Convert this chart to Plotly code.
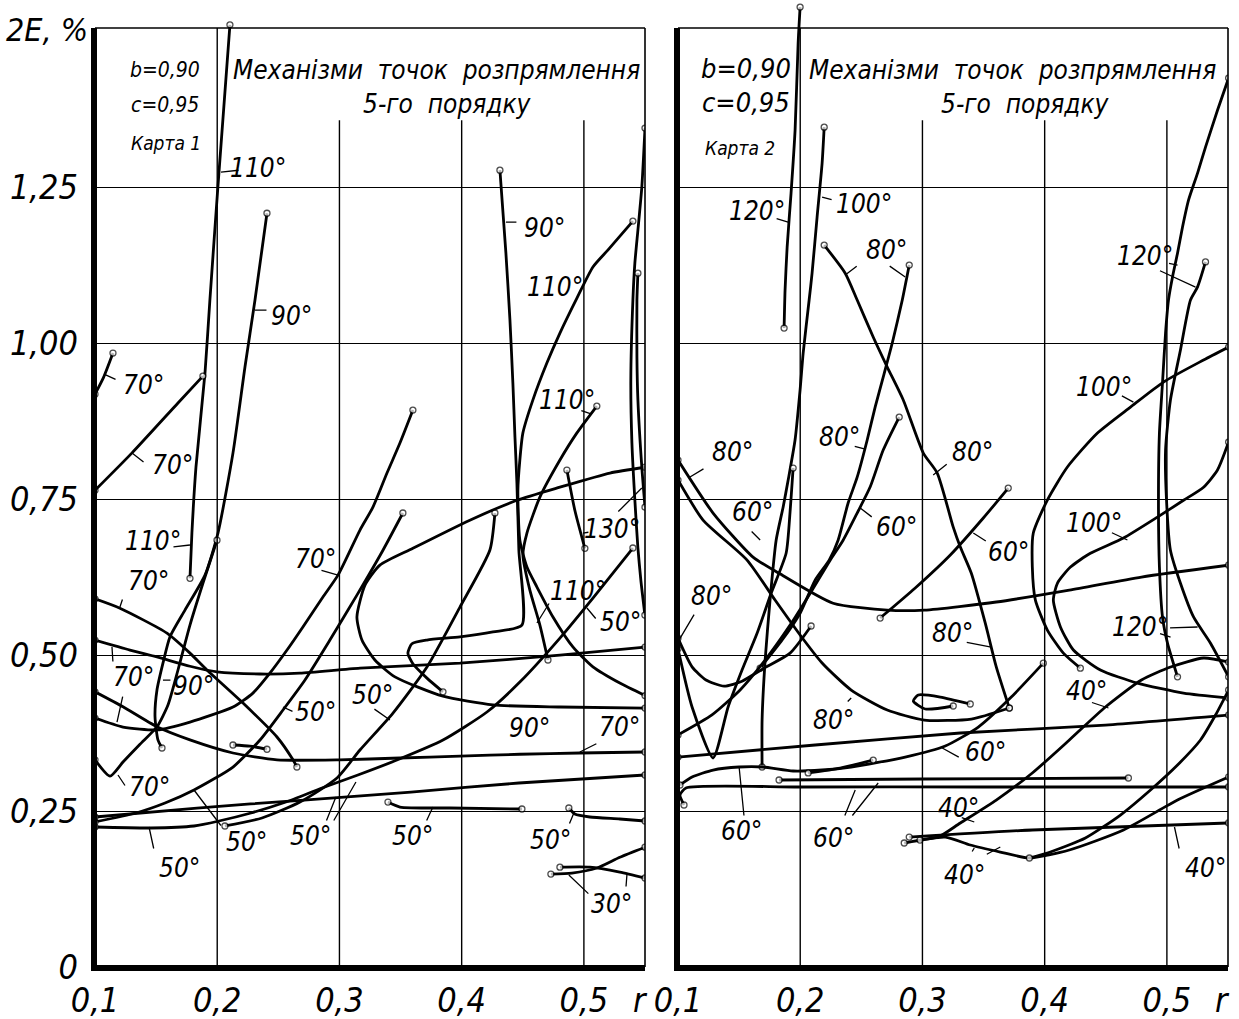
import plotly.graph_objects as go

# ---------------- axes / ticks ----------------
Y_TICKS = [0, 0.25, 0.5, 0.75, 1.0, 1.25]
Y_TICK_TEXT = ["0", "0,25", "0,50", "0,75", "1,00", "1,25"]
X_TICKS = [0.1, 0.2, 0.3, 0.4, 0.5]
X_TICK_TEXT = ["0,1", "0,2", "0,3", "0,4", "0,5"]
GRID_X = [0.2, 0.3, 0.4, 0.5]
GRID_TOP = [1.505, 1.357, 1.357, 1.357]
FRAME_TOP = 1.505
X_RANGE = [0.1, 0.55]
Y_RANGE = [0, 1.545]

# ---------------- Карта 1 (left panel) ----------------
A1_110_X = [0.2104, 0.2006, 0.194, 0.19, 0.1826, 0.1793, 0.1777]
A1_110_Y = [1.510, 1.252, 1.069, 0.952, 0.801, 0.696, 0.623]
A1_90_X = [0.2407, 0.2309, 0.2227, 0.2129, 0.2006, 0.19, 0.1736, 0.1613, 0.1556, 0.1507, 0.1491, 0.1515, 0.1548]
A1_90_Y = [1.208, 1.069, 0.9615, 0.824, 0.6955, 0.628, 0.572, 0.529, 0.487, 0.444, 0.401, 0.364, 0.351]
A1_70S_X = [0.1, 0.107, 0.1147]
A1_70S_Y = [0.918, 0.945, 0.984]
A1_70B_X = [0.1, 0.1303, 0.1679, 0.1883]
A1_70B_Y = [0.764, 0.824, 0.904, 0.947]
A1_70D_X = [0.1, 0.1204, 0.1589, 0.1777, 0.1916, 0.2211, 0.2489, 0.262, 0.2652]
A1_70D_Y = [0.59, 0.575, 0.535, 0.503, 0.476, 0.423, 0.3686, 0.332, 0.3205]
A1_70F_X = [0.1, 0.1229, 0.1507, 0.1777, 0.2129, 0.2489, 0.3, 0.3495, 0.3986, 0.4476, 0.4967, 0.55]
A1_70F_Y = [0.441, 0.417, 0.385, 0.364, 0.343, 0.332, 0.332, 0.335, 0.338, 0.341, 0.343, 0.3446]
A1_90C_X = [0.55, 0.5213, 0.4804, 0.4452, 0.4067, 0.3601, 0.3331, 0.3209, 0.3143, 0.3184, 0.329, 0.3454, 0.3847, 0.4256, 0.4804, 0.55]
A1_90C_Y = [0.801, 0.7917, 0.769, 0.748, 0.716, 0.671, 0.644, 0.612, 0.561, 0.524, 0.492, 0.465, 0.434, 0.42, 0.4167, 0.415]
A1_90R_X = [0.4313, 0.4362, 0.4395, 0.4419, 0.4436, 0.4452, 0.4468, 0.4493, 0.4256, 0.3986, 0.3716, 0.3593, 0.356, 0.3601, 0.3716, 0.3847]
A1_90R_Y = [1.277, 1.144, 1.037, 0.936, 0.849, 0.776, 0.668, 0.548, 0.537, 0.529, 0.524, 0.518, 0.503, 0.486, 0.463, 0.441]
A1_110C_X = [0.5401, 0.5196, 0.5074, 0.4943, 0.4804, 0.4697, 0.4583, 0.4501, 0.4476, 0.446, 0.4476, 0.4534, 0.4616, 0.4747, 0.491, 0.5074, 0.5294, 0.55]
A1_110C_Y = [1.1955, 1.149, 1.122, 1.072, 1.016, 0.968, 0.909, 0.856, 0.8125, 0.764, 0.684, 0.641, 0.609, 0.561, 0.513, 0.481, 0.455, 0.435]
A1_110V_X = [0.5106, 0.4943, 0.4804, 0.464, 0.4534, 0.4501, 0.4558, 0.464, 0.4706]
A1_110V_Y = [0.899, 0.856, 0.8125, 0.753, 0.6955, 0.66, 0.604, 0.548, 0.492]
A1_130_X = [0.4861, 0.4926, 0.5008]
A1_130_Y = [0.7965, 0.732, 0.671]
A1_130A_X = [0.55, 0.5474, 0.5442, 0.5417, 0.5401, 0.5384, 0.5393, 0.5417, 0.5442, 0.5466, 0.5499]
A1_130A_Y = [1.3446, 1.25, 1.181, 1.128, 1.069, 0.9407, 0.8397, 0.7484, 0.6715, 0.62, 0.564]
A1_130B_X = [0.5442, 0.5434, 0.5434, 0.5442, 0.5474, 0.55]
A1_130B_Y = [1.112, 1.069, 0.9776, 0.9087, 0.801, 0.737]
A1_70V_X = [0.1, 0.1123, 0.1229, 0.1368, 0.1507, 0.1597, 0.1679, 0.1777, 0.1883, 0.1998]
A1_70V_Y = [0.332, 0.306, 0.3285, 0.357, 0.385, 0.42, 0.476, 0.548, 0.615, 0.684]
A1_70L_X = [0.3601, 0.3495, 0.3389, 0.3274, 0.3168, 0.2988, 0.2865, 0.2701, 0.2571, 0.2431, 0.2292, 0.2129, 0.1777, 0.1507, 0.1229, 0.1]
A1_70L_Y = [0.8926, 0.8397, 0.7917, 0.737, 0.7003, 0.628, 0.593, 0.545, 0.508, 0.471, 0.439, 0.4167, 0.3926, 0.38, 0.3846, 0.399]
A1_70H_X = [0.1, 0.1286, 0.1507, 0.1777, 0.1998, 0.235, 0.2677, 0.3168, 0.3986, 0.4804, 0.55]
A1_70H_Y = [0.524, 0.508, 0.497, 0.482, 0.473, 0.4696, 0.471, 0.479, 0.487, 0.5, 0.5128]
A1_SHORT_X = [0.2129, 0.2268, 0.2407]
A1_SHORT_Y = [0.3558, 0.354, 0.349]
A1_50A_X = [0.1, 0.1335, 0.1573, 0.181, 0.2129, 0.235, 0.2538, 0.2718, 0.2922, 0.3143, 0.3356, 0.3519]
A1_50A_Y = [0.2324, 0.2468, 0.2628, 0.2837, 0.3205, 0.3638, 0.4119, 0.46, 0.524, 0.596, 0.668, 0.7276]
A1_50B_X = [0.1, 0.1458, 0.181, 0.2014, 0.2276, 0.2562, 0.2857, 0.3151, 0.347, 0.3847, 0.4207, 0.4476, 0.4804, 0.5074, 0.5401]
A1_50B_Y = [0.2244, 0.2228, 0.226, 0.234, 0.2468, 0.2644, 0.2869, 0.3077, 0.3317, 0.3638, 0.4087, 0.4567, 0.5272, 0.5913, 0.6715]
A1_50C_X = [0.4272, 0.4231, 0.3986, 0.3716, 0.3438, 0.3168, 0.298, 0.2677, 0.2366, 0.2063]
A1_50C_Y = [0.7276, 0.6683, 0.5769, 0.4808, 0.407, 0.3478, 0.3029, 0.2644, 0.2388, 0.226]
A1_50F_X = [0.1, 0.1834, 0.271, 0.3585, 0.4468, 0.55]
A1_50F_Y = [0.2404, 0.2548, 0.2676, 0.2804, 0.2949, 0.3077]
A1_50S_X = [0.3397, 0.3495, 0.3904, 0.4493]
A1_50S_Y = [0.2644, 0.2564, 0.2548, 0.2532]
A1_50R_X = [0.4877, 0.4926, 0.5049, 0.5294, 0.55]
A1_50R_Y = [0.2548, 0.2452, 0.2404, 0.2372, 0.234]
A1_30A_X = [0.4804, 0.5049, 0.5294, 0.55]
A1_30A_Y = [0.160, 0.160, 0.152, 0.1426]
A1_30B_X = [0.473, 0.4902, 0.5106, 0.5294, 0.55]
A1_30B_Y = [0.149, 0.1506, 0.1587, 0.176, 0.192]

# ---------------- Карта 2 (right panel) ----------------
A2_120_X = [0.1999, 0.1983, 0.1958, 0.1925, 0.1893, 0.1876, 0.1868]
A2_120_Y = [1.5385, 1.4808, 1.3413, 1.2404, 1.1538, 1.0849, 1.024]
A2_100_X = [0.2196, 0.2179, 0.2138, 0.2097, 0.2073, 0.2024, 0.1999, 0.1958, 0.1901, 0.186, 0.1803, 0.1753, 0.1713, 0.1688, 0.1688]
A2_100_Y = [1.346, 1.288, 1.202, 1.112, 1.069, 0.984, 0.925, 0.845, 0.78, 0.737, 0.684, 0.588, 0.492, 0.396, 0.3205]
A2_80A_X = [0.2196, 0.2368, 0.2466, 0.2597, 0.2712, 0.2843, 0.3007, 0.3121, 0.3252, 0.331, 0.34, 0.3514, 0.3604, 0.3711]
A2_80A_Y = [1.157, 1.112, 1.069, 1.0096, 0.9615, 0.9087, 0.8237, 0.7917, 0.705, 0.673, 0.631, 0.551, 0.481, 0.415]
A2_80B_X = [0.2892, 0.2835, 0.2753, 0.2679, 0.2613, 0.2548, 0.2466, 0.2392, 0.231, 0.2237, 0.2122, 0.1999, 0.1852, 0.1672]
A2_80B_Y = [1.125, 1.069, 1.0, 0.9455, 0.8974, 0.8446, 0.785, 0.7436, 0.684, 0.652, 0.62, 0.567, 0.524, 0.479]
A2_60A_X = [0.281, 0.2679, 0.2572, 0.2466, 0.2351, 0.2245, 0.2097, 0.1917, 0.1713, 0.1508, 0.1278, 0.1]
A2_60A_Y = [0.8814, 0.8285, 0.7692, 0.7276, 0.684, 0.652, 0.604, 0.548, 0.492, 0.444, 0.404, 0.372]
A2_60B_X = [0.3702, 0.3498, 0.3228, 0.2941, 0.2654]
A2_60B_Y = [0.7676, 0.7196, 0.6603, 0.6074, 0.5593]
A2_100C_X = [0.5505, 0.53, 0.4972, 0.4702, 0.4432, 0.4186, 0.4022, 0.3907, 0.3899, 0.3924, 0.4022, 0.4153, 0.4292]
A2_100C_Y = [0.9936, 0.9728, 0.9375, 0.8974, 0.8558, 0.8013, 0.7484, 0.6955, 0.641, 0.588, 0.54, 0.503, 0.479]
A2_100D_X = [0.5505, 0.5414, 0.53, 0.5136, 0.4923, 0.4645, 0.4374, 0.4211, 0.4104, 0.4071, 0.4129, 0.4235, 0.4456, 0.4759, 0.5136, 0.5505]
A2_100D_Y = [0.8413, 0.7965, 0.769, 0.748, 0.721, 0.6875, 0.663, 0.641, 0.615, 0.588, 0.545, 0.508, 0.476, 0.455, 0.439, 0.431]
A2_120A_X = [0.5505, 0.5414, 0.5316, 0.5251, 0.5177, 0.5128, 0.5087, 0.5046, 0.5013, 0.4989, 0.4964, 0.4939, 0.4931, 0.4939, 0.4964, 0.5005, 0.5087]
A2_120A_Y = [1.4247, 1.373, 1.314, 1.2724, 1.229, 1.186, 1.144, 1.106, 1.069, 1.016, 0.936, 0.856, 0.748, 0.641, 0.561, 0.519, 0.465]
A2_120B_X = [0.5316, 0.5251, 0.5193, 0.5111, 0.5029, 0.4989, 0.4997, 0.5029, 0.5111, 0.5218, 0.5357, 0.5505]
A2_120B_Y = [1.13, 1.09, 1.069, 0.989, 0.9087, 0.8285, 0.748, 0.668, 0.615, 0.561, 0.519, 0.465]
A2_80L_X = [0.1, 0.1287, 0.1614, 0.1827, 0.2269, 0.2712, 0.3015, 0.3604, 0.4202, 0.4792, 0.5505]
A2_80L_Y = [0.8125, 0.7276, 0.657, 0.631, 0.583, 0.572, 0.572, 0.585, 0.604, 0.625, 0.644]
A2_80M_X = [0.1, 0.1205, 0.1565, 0.1794, 0.1999, 0.2179, 0.2417, 0.2712, 0.3015, 0.34, 0.3711]
A2_80M_Y = [0.7804, 0.7163, 0.6522, 0.5881, 0.5321, 0.4872, 0.4439, 0.4119, 0.3958, 0.3974, 0.4151]
A2_LOOP_X = [0.3252, 0.3023, 0.2925, 0.2966, 0.3146, 0.3391]
A2_LOOP_Y = [0.4183, 0.4135, 0.4263, 0.4359, 0.4327, 0.4215]
A2_80U_X = [0.1, 0.1115, 0.1229, 0.1377, 0.1524, 0.1704, 0.1917, 0.2089]
A2_80U_Y = [0.527, 0.481, 0.46, 0.45, 0.458, 0.479, 0.503, 0.5465]
A2_V_X = [0.1, 0.1115, 0.1287, 0.141, 0.1524, 0.1647, 0.1762, 0.1885, 0.1917, 0.1942]
A2_V_Y = [0.51, 0.4167, 0.335, 0.4167, 0.476, 0.535, 0.599, 0.6635, 0.73, 0.7997]
A2_60F_X = [0.1, 0.2122, 0.331, 0.4497, 0.5505]
A2_60F_Y = [0.3365, 0.3558, 0.375, 0.3878, 0.4038]
A2_60G_X = [0.1049, 0.1016, 0.1065, 0.2, 0.35, 0.45, 0.5505]
A2_60G_Y = [0.2596, 0.2757, 0.2869, 0.2885, 0.2885, 0.2885, 0.2885]
A2_60H_X = [0.1827, 0.3, 0.4685]
A2_60H_Y = [0.2997, 0.3013, 0.3029]
A2_60K_X = [0.1016, 0.1115, 0.1287, 0.15, 0.1696, 0.1942, 0.2179, 0.2417, 0.2859, 0.3187, 0.3457, 0.3727, 0.3989]
A2_60K_Y = [0.2917, 0.3045, 0.3157, 0.3205, 0.3205, 0.3141, 0.3157, 0.3205, 0.3365, 0.3542, 0.3846, 0.4327, 0.487]
A2_60S_X = [0.2065, 0.2327, 0.2597]
A2_60S_Y = [0.311, 0.3189, 0.3317]
A2_40A_X = [0.2892, 0.3899, 0.5505]
A2_40A_Y = [0.2083, 0.2196, 0.2308]
A2_40B_X = [0.2851, 0.3187, 0.3392, 0.3637, 0.3875, 0.4202, 0.4645, 0.5087, 0.5505]
A2_40B_Y = [0.1987, 0.2083, 0.1955, 0.1843, 0.1747, 0.1875, 0.2196, 0.2676, 0.3045]
A2_40C_X = [0.5505, 0.53, 0.503, 0.4792, 0.4497, 0.4202, 0.3899, 0.3604, 0.331, 0.313, 0.298]
A2_40C_Y = [0.4888, 0.4952, 0.4808, 0.46, 0.4167, 0.3638, 0.3109, 0.2676, 0.2308, 0.2083, 0.2035]
A2_40D_X = [0.5505, 0.5398, 0.5275, 0.5087, 0.4866, 0.462, 0.4333, 0.4047, 0.3875]
A2_40D_Y = [0.4439, 0.4038, 0.3638, 0.3237, 0.2837, 0.2436, 0.2067, 0.1843, 0.1747]

CURVES_1 = [
    (A1_110_X, A1_110_Y), (A1_90_X, A1_90_Y), (A1_70S_X, A1_70S_Y), (A1_70B_X, A1_70B_Y),
    (A1_70D_X, A1_70D_Y), (A1_70F_X, A1_70F_Y), (A1_90C_X, A1_90C_Y), (A1_90R_X, A1_90R_Y),
    (A1_110C_X, A1_110C_Y), (A1_110V_X, A1_110V_Y), (A1_130_X, A1_130_Y), (A1_130A_X, A1_130A_Y),
    (A1_130B_X, A1_130B_Y), (A1_70V_X, A1_70V_Y), (A1_70L_X, A1_70L_Y), (A1_70H_X, A1_70H_Y),
    (A1_SHORT_X, A1_SHORT_Y), (A1_50A_X, A1_50A_Y), (A1_50B_X, A1_50B_Y), (A1_50C_X, A1_50C_Y),
    (A1_50F_X, A1_50F_Y), (A1_50S_X, A1_50S_Y), (A1_50R_X, A1_50R_Y), (A1_30A_X, A1_30A_Y),
    (A1_30B_X, A1_30B_Y),
]
CURVES_2 = [
    (A2_120_X, A2_120_Y), (A2_100_X, A2_100_Y), (A2_80A_X, A2_80A_Y), (A2_80B_X, A2_80B_Y),
    (A2_60A_X, A2_60A_Y), (A2_60B_X, A2_60B_Y), (A2_100C_X, A2_100C_Y), (A2_100D_X, A2_100D_Y),
    (A2_120A_X, A2_120A_Y), (A2_120B_X, A2_120B_Y), (A2_80L_X, A2_80L_Y), (A2_80M_X, A2_80M_Y),
    (A2_LOOP_X, A2_LOOP_Y), (A2_80U_X, A2_80U_Y), (A2_V_X, A2_V_Y), (A2_60F_X, A2_60F_Y),
    (A2_60G_X, A2_60G_Y), (A2_60H_X, A2_60H_Y), (A2_60K_X, A2_60K_Y), (A2_60S_X, A2_60S_Y),
    (A2_40A_X, A2_40A_Y), (A2_40B_X, A2_40B_Y), (A2_40C_X, A2_40C_Y), (A2_40D_X, A2_40D_Y),
]

# angle labels: (text, x, y)
LABELS_1 = [
    ("110°", 0.2333, 1.2804), ("90°", 0.2611, 1.0433), ("90°", 0.4681, 1.1843), ("110°", 0.4763, 1.0897),
    ("70°", 0.1393, 0.9327), ("70°", 0.163, 0.8045), ("110°", 0.4861, 0.9087), ("110°", 0.1474, 0.6827),
    ("70°", 0.1434, 0.6186), ("70°", 0.2808, 0.6538), ("130°", 0.5229, 0.7019), ("110°", 0.4951, 0.6026),
    ("50°", 0.5303, 0.5529), ("70°", 0.1311, 0.4647), ("90°", 0.1802, 0.4503), ("50°", 0.2808, 0.4087),
    ("50°", 0.3274, 0.4359), ("90°", 0.4558, 0.383), ("70°", 0.5294, 0.3846), ("70°", 0.1442, 0.2885),
    ("50°", 0.1695, 0.1587), ("50°", 0.2243, 0.2003), ("50°", 0.2767, 0.2099), ("50°", 0.3601, 0.2099),
    ("50°", 0.473, 0.2035), ("30°", 0.5229, 0.101),
]
LABELS_2 = [
    ("120°", 0.1647, 1.2115), ("100°", 0.2523, 1.2228), ("80°", 0.2704, 1.149), ("120°", 0.4817, 1.1394),
    ("80°", 0.1442, 0.8253), ("80°", 0.2319, 0.8494), ("60°", 0.1606, 0.7292), ("60°", 0.2785, 0.7051),
    ("80°", 0.3408, 0.8253), ("100°", 0.4489, 0.9295), ("60°", 0.3703, 0.6651), ("100°", 0.4407, 0.7115),
    ("120°", 0.4784, 0.5449), ("40°", 0.4342, 0.4423), ("60°", 0.3514, 0.3446), ("80°", 0.127, 0.5946),
    ("80°", 0.3244, 0.5353), ("80°", 0.2269, 0.3958), ("60°", 0.1516, 0.2179), ("60°", 0.2269, 0.2067),
    ("40°", 0.3293, 0.2548), ("40°", 0.3342, 0.1474), ("40°", 0.5316, 0.1587),
]
# leader lines: (target x, target y, tail dx px, tail dy px)
LEADERS_1 = [
    (0.2031, 1.274, 19, -2), (0.2309, 1.0529, 13, 0), (0.4362, 1.1939, 12, 0), (0.1074, 0.9503, 13, 6),
    (0.1303, 0.8237, 13, 10), (0.1777, 0.6763, -18, 2), (0.1204, 0.5769, 3, -9), (0.2988, 0.6282, -18, -5),
    (0.4992, 0.6955, 7, -1), (0.5474, 0.7676, -25, 25), (0.4616, 0.5513, 13, -21), (0.5065, 0.8862, -12, -4),
    (0.5025, 0.5753, 10, 12), (0.1139, 0.5128, 1, 16), (0.118, 0.3926, 6, -27), (0.1556, 0.4599, 9, 0),
    (0.2538, 0.4167, 11, 5), (0.3413, 0.3958, -17, -12), (0.4967, 0.3446, 18, -9), (0.1188, 0.3077, 8, 12),
    (0.1442, 0.2244, 5, 23), (0.181, 0.2837, 28, 37), (0.2971, 0.2724, -10, 25), (0.3135, 0.2965, -23, 40),
    (0.3765, 0.2564, -7, 15), (0.4918, 0.2468, -5, 12), (0.4877, 0.1474, 21, 20), (0.5352, 0.1474, -1, 13),
]
LEADERS_2 = [
    (0.1901, 1.1939, -13, -4), (0.2179, 1.234, 11, 3), (0.2368, 1.109, 13, -10), (0.2859, 1.1058, -17, -12),
    (0.5087, 1.125, -10, -2), (0.5234, 1.0897, -37, -17), (0.1098, 0.7853, 15, -9), (0.2532, 0.8301, -12, -3),
    (0.1672, 0.6843, -10, -10), (0.2491, 0.7356, 13, 10), (0.3088, 0.7885, 15, -12), (0.4726, 0.9054, -13, -7),
    (0.3416, 0.6955, 14, 9), (0.4677, 0.6843, -17, -8), (0.5251, 0.5449, -29, 1), (0.503, 0.5288, -12, -4),
    (0.4522, 0.4151, -18, -6), (0.3162, 0.351, 18, 10), (0.1008, 0.524, 16, -27), (0.3563, 0.5128, -26, -5),
    (0.2417, 0.4311, -5, 5), (0.15, 0.3205, 5, 50), (0.245, 0.2837, -11, 27), (0.2638, 0.2949, -27, 34),
    (0.3424, 0.2324, -14, -5), (0.3424, 0.1907, -3, 5), (0.3637, 0.1923, -15, 8), (0.5062, 0.2244, 5, 23),
]

# ---------------- figure ----------------
W, H = 1239, 1019
FONT = "DejaVu Sans Condensed, Liberation Sans Narrow, DejaVu Sans, sans-serif"
XD = {"x": [95 / W, 645 / W], "x2": [678 / W, 1228 / W]}
YD = [52 / H, 1016 / H]


def paper_x(ax, v):
    d = XD[ax]
    return d[0] + (v - X_RANGE[0]) / (X_RANGE[1] - X_RANGE[0]) * (d[1] - d[0])


def paper_y(v):
    return YD[0] + (v - Y_RANGE[0]) / (Y_RANGE[1] - Y_RANGE[0]) * (YD[1] - YD[0])


def txt(s):
    return dict(family=FONT, size=s, color="black", style="italic")


fig = go.Figure()

for xa, ya, curves in (("x", "y", CURVES_1), ("x2", "y2", CURVES_2)):
    for xs, ys in curves:
        n = len(xs)
        sizes = [6 if i in (0, n - 1) else 0 for i in range(n)]
        fig.add_trace(go.Scatter(
            x=xs, y=ys, xaxis=xa, yaxis=ya, mode="lines+markers",
            line=dict(color="black", width=2.8, shape="spline", smoothing=0.6),
            marker=dict(size=sizes, color="white", line=dict(color="black", width=1.3)),
            hoverinfo="skip", showlegend=False,
        ))

for xa, ya, labels, leaders in (("x", "y", LABELS_1, LEADERS_1), ("x2", "y2", LABELS_2, LEADERS_2)):
    for t, lx, ly in labels:
        fig.add_annotation(x=lx, y=ly, xref=xa, yref=ya, text=t, showarrow=False,
                           font=txt(26), xanchor="center", yanchor="middle")
    for tx, ty, dx, dy in leaders:
        fig.add_annotation(x=tx, y=ty, xref=xa, yref=ya, text="", showarrow=True,
                           ax=dx, ay=dy, axref="pixel", ayref="pixel",
                           arrowhead=0, arrowwidth=1.3, arrowcolor="black", standoff=0)

shapes = []
for xa, ya in (("x", "y"), ("x2", "y2")):
    for gx, gt in zip(GRID_X, GRID_TOP):
        shapes.append(dict(type="line", xref=xa, yref=ya, x0=gx, x1=gx, y0=0, y1=gt,
                           line=dict(color="black", width=1.4)))
    d = XD[xa]
    y0p, ytp = paper_y(0), paper_y(FRAME_TOP)
    shapes += [
        dict(type="line", xref="paper", yref="paper", x0=d[0] - 1 / W, x1=d[0] - 1 / W,
             y0=y0p - 4 / H, y1=ytp, line=dict(color="black", width=6)),
        dict(type="line", xref="paper", yref="paper", x0=d[0] - 4 / W, x1=d[1],
             y0=y0p - 1 / H, y1=y0p - 1 / H, line=dict(color="black", width=6)),
        dict(type="line", xref="paper", yref="paper", x0=d[0], x1=d[1],
             y0=ytp, y1=ytp, line=dict(color="black", width=1.6)),
        dict(type="line", xref="paper", yref="paper", x0=d[1], x1=d[1],
             y0=y0p, y1=ytp, line=dict(color="black", width=1.6)),
    ]

tick_font = txt(34)
common_x = dict(range=X_RANGE, showgrid=False, zeroline=False, showline=False, automargin=False,
                tickvals=X_TICKS, ticktext=X_TICK_TEXT, ticks="", tickfont=tick_font,
                ticklabelstandoff=10, fixedrange=True)
common_y = dict(range=Y_RANGE, showgrid=True, gridcolor="black", gridwidth=1.4, zeroline=False,
                showline=False, automargin=False, tickvals=Y_TICKS, ticks="", tickfont=tick_font,
                ticklabelstandoff=16, fixedrange=True)

fig.update_layout(
    width=W, height=H, margin=dict(l=0, r=0, t=0, b=0, autoexpand=False),
    paper_bgcolor="white", plot_bgcolor="white", showlegend=False,
    xaxis=dict(domain=XD["x"], anchor="y", **common_x),
    xaxis2=dict(domain=XD["x2"], anchor="y2", **common_x),
    yaxis=dict(domain=YD, anchor="x", ticktext=Y_TICK_TEXT, **common_y),
    yaxis2=dict(domain=YD, anchor="x2", showticklabels=False, **common_y),
    shapes=shapes,
)

# titles and parameters
for xa, ya, cx in (("x", "y", 0.3798), ("x2", "y2", 0.3735)):
    fig.add_annotation(x=cx, y=1.4375, xref=xa, yref=ya, text="Механізми  точок  розпрямлення",
                       showarrow=False, font=txt(26), xanchor="center", yanchor="middle")
for xa, ya, cx in (("x", "y", 0.3888), ("x2", "y2", 0.3842)):
    fig.add_annotation(x=cx, y=1.383, xref=xa, yref=ya, text="5-го  порядку",
                       showarrow=False, font=txt(26), xanchor="center", yanchor="middle")
params = [
    ("x", "y", 0.1573, 1.4375, "b=0,90", 21), ("x", "y", 0.1573, 1.381, "c=0,95", 21),
    ("x", "y", 0.1581, 1.3205, "Карта 1", 19), ("x2", "y2", 0.1557, 1.4407, "b=0,90", 27),
    ("x2", "y2", 0.1557, 1.386, "c=0,95", 27), ("x2", "y2", 0.1508, 1.3125, "Карта 2", 19),
]
for xa, ya, px, py, t, s in params:
    fig.add_annotation(x=px, y=py, xref=xa, yref=ya, text=t, showarrow=False, font=txt(s),
                       xanchor="center", yanchor="middle")
# axis names
fig.add_annotation(x=47 / W, y=1 - 30 / H, xref="paper", yref="paper", text="2E, %",
                   showarrow=False, font=txt(32), xanchor="center", yanchor="middle")
for xa, rx in (("x", 0.5467), ("x2", 0.5455)):
    fig.add_annotation(x=paper_x(xa, rx), y=1 - 1000 / H, xref="paper", yref="paper", text="r",
                       showarrow=False, font=txt(34), xanchor="center", yanchor="middle")

fig.write_html("out.html", config={"displayModeBar": False},
               post_script="document.body.style.margin='0px';document.body.style.overflow='hidden';")
